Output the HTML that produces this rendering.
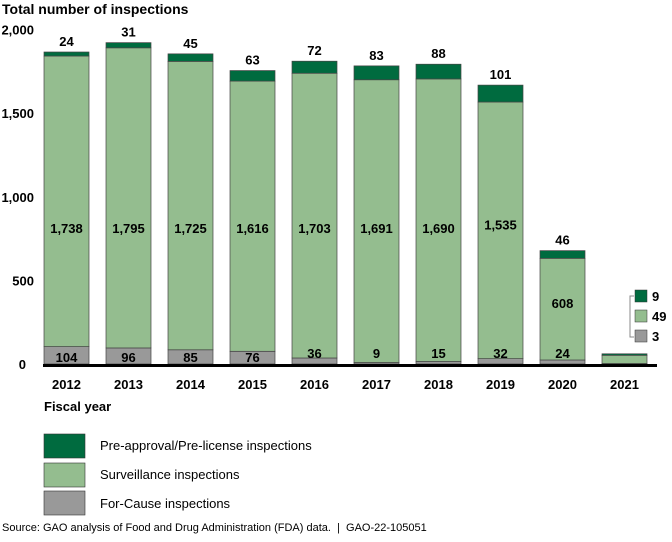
<!DOCTYPE html>
<html><head><meta charset="utf-8"><style>
body{margin:0;background:#fff;font-family:"Liberation Sans",Arial,sans-serif}
svg text{font-family:"Liberation Sans",Arial,sans-serif;font-weight:bold;fill:#000}
</style></head><body>
<svg id="c" width="672" height="537" viewBox="0 0 672 537" xmlns="http://www.w3.org/2000/svg">
<text x="2" y="14" font-size="14">Total number of inspections</text>
<g id="yaxis"></g>
<g id="bars"></g>
<line x1="43" x2="657" y1="365.5" y2="365.5" stroke="#000" stroke-width="3"/>
<text x="44" y="411" font-size="13">Fiscal year</text>
<g>
<rect x="44" y="434" width="41" height="24" fill="#006b3f" stroke="#333" stroke-width="0.6"/>
<text x="100" y="450" font-size="13" style="font-weight:normal">Pre-approval/Pre-license inspections</text>
<rect x="44" y="463" width="41" height="24" fill="#94bd8f" stroke="#333" stroke-width="0.6"/>
<text x="100" y="479" font-size="13" style="font-weight:normal">Surveillance inspections</text>
<rect x="44" y="491" width="41" height="24" fill="#999" stroke="#333" stroke-width="0.6"/>
<text x="100" y="508" font-size="13" style="font-weight:normal">For-Cause inspections</text>
</g>
<text x="2" y="531" font-size="11" style="font-weight:normal;white-space:pre" xml:space="preserve">Source: GAO analysis of Food and Drug Administration (FDA) data.  |  GAO-22-105051</text>
<g>
<path d="M634 296 H630 V337 H634" fill="none" stroke="#888" stroke-width="1"/>
<rect x="635" y="290" width="12" height="12" fill="#006b3f" stroke="#333" stroke-width="0.5"/>
<rect x="635" y="310" width="12" height="12" fill="#94bd8f" stroke="#333" stroke-width="0.5"/>
<rect x="635" y="330" width="12" height="12" fill="#999" stroke="#333" stroke-width="0.5"/>
<text x="652" y="301" font-size="13">9</text>
<text x="652" y="321" font-size="13">49</text>
<text x="652" y="341" font-size="13">3</text>
</g>
</svg>
<script>
const years=["2012","2013","2014","2015","2016","2017","2018","2019","2020","2021"];
const forCause=[104,96,85,76,36,9,15,32,24,3];
const surveillance=[1738,1795,1725,1616,1703,1691,1690,1535,608,49];
const preApproval=[24,31,45,63,72,83,88,101,46,9];
const yTicks=[0,500,1000,1500,2000];
const yTickLabels=["0","500","1,000","1,500","2,000"];
const NS="http://www.w3.org/2000/svg";
const y0=364,k=0.1672;
function yS(v){return y0-v*k;}
function xS(i){return 44+i*62;}
const bw=45;
function mk(t,a,p){const e=document.createElementNS(NS,t);for(const n in a)e.setAttribute(n,a[n]);p.appendChild(e);return e;}
const ya=document.getElementById('yaxis');
yTicks.forEach((t,i)=>{const e=mk('text',{x:i==0?26:34,y:yS(t)+5,'font-size':13,'text-anchor':'end'},ya);


e.textContent=yTickLabels[i];});
const g=document.getElementById('bars');
years.forEach((yr,i)=>{
 const x=xS(i);
 const segs=[[0,forCause[i],'#999'],[forCause[i],forCause[i]+surveillance[i],'#94bd8f'],[forCause[i]+surveillance[i],forCause[i]+surveillance[i]+preApproval[i],'#006b3f']];
 const names=['for-cause','surveillance','pre-approval'];
 segs.forEach((s,j)=>{const r=mk('rect',{x:x,y:yS(s[1]),width:bw,height:yS(s[0])-yS(s[1]),fill:s[2],stroke:'#444','stroke-width':0.7},g);
  
  });
 const xl=mk('text',{x:x+bw/2,y:389,'font-size':13,'text-anchor':'middle'},g);
 
 
 xl.textContent=yr;
 if(yr==="2021")return;
 const tot=forCause[i]+surveillance[i]+preApproval[i];
 const t1=mk('text',{x:x+bw/2,y:yS(tot)-6,'font-size':13,'text-anchor':'middle'},g);
 
 
 t1.textContent=preApproval[i];
 const mid=(yS(forCause[i])+yS(forCause[i]+surveillance[i]))/2;
 const t2=mk('text',{x:x+bw/2,y:Math.max(mid,228)+5-6*(mid>228),'font-size':13,'text-anchor':'middle'},g);
 
 
 t2.textContent=surveillance[i].toLocaleString('en-US');
 const t3=mk('text',{x:x+bw/2,y:forCause[i]>60?362:358,'font-size':13,'text-anchor':'middle'},g);
 
 
 t3.textContent=forCause[i];
});
</script>
</body></html>
